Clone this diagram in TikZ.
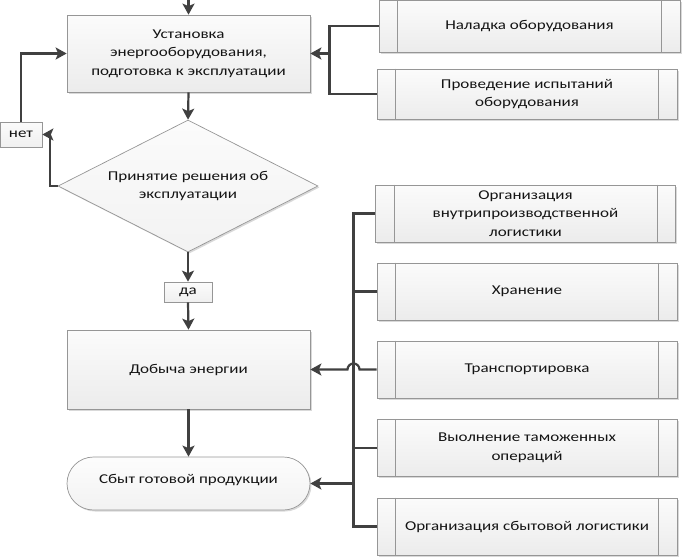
\documentclass[tikz,border=0pt]{standalone}
\usepackage{fontspec}
\setmainfont{Carlito}[FakeStretch=1.26]
\usetikzlibrary{arrows.meta,shapes.geometric,shadows,calc}
\definecolor{ln}{RGB}{64,64,64}
\definecolor{bd}{RGB}{150,150,150}
\definecolor{txt}{RGB}{20,20,20}
\begin{document}
\begin{tikzpicture}[x=1pt,y=-1pt,
  base/.style={draw=bd, line width=0.7pt, top color=gray!3, bottom color=gray!15,
    drop shadow={shadow xshift=1.5pt,shadow yshift=-1.5pt,opacity=0.3,fill=gray},
    text=txt, align=center, inner sep=2pt, font=\fontsize{13.5}{18.5}\selectfont},
  mainbox/.style={base, minimum width=243pt},
  subbox/.style={base, minimum width=300pt, minimum height=57pt},
  tag/.style={draw=bd, line width=0.7pt, top color=gray!3, bottom color=gray!12, text=txt,
    inner sep=0pt, font=\fontsize{13.5}{16}\selectfont},
  conn/.style={draw=ln, line width=2.2pt},
  arr/.style={conn, -{Stealth[length=11pt,width=12pt,inset=2.5pt]}}
]
\useasboundingbox (0,0) rectangle (682,558);

% main column
\node[mainbox, minimum height=77pt] (inst) at (188.5,53.5)
  {Установка\\энергооборудования,\\подготовка к эксплуатации};
\node[base, diamond, shape aspect=1.97, minimum width=260pt, minimum height=132pt, inner sep=0pt,
  top color=gray!3, bottom color=gray!10] (dec) at (188,186)
  {Принятие решения об\\эксплуатации};
\node[tag, minimum width=42pt, minimum height=25pt] (net) at (21,134.5) {нет};
\node[tag, minimum width=48pt, minimum height=20pt] (da) at (188,292) {да};
\node[mainbox, minimum height=79pt] (dob) at (188.5,369.5) {Добыча энергии};
\node[mainbox, minimum height=53pt, rounded corners=26.5pt, top color=gray!2, bottom color=gray!10] (sbt) at (188.5,483.5)
  {\raisebox{9pt}{Сбыт готовой продукции}};

% right column
\node[subbox, minimum width=301pt, minimum height=52pt] (nal) at (529.5,26) {Наладка оборудования};
\node[subbox, minimum height=50pt] (isp) at (527,94) {Проведение испытаний\\оборудования};
\node[subbox] (org) at (525.5,213.5) {Организация\\внутрипроизводственной\\логистики};
\node[subbox] (hr) at (527,291.5) {Хранение};
\node[subbox] (tr) at (527,369.5) {Транспортировка};
\node[subbox] (tam) at (527,448) {Выолнение таможенных\\операций};
\node[subbox] (sl) at (527,526.5) {Организация сбытовой логистики};

\foreach \n in {nal,isp,org,hr,tr,tam,sl}{
  \draw[bd, line width=0.7pt] ($(\n.north west)+(19,0)$) -- ($(\n.south west)+(19,0)$);
  \draw[bd, line width=0.7pt] ($(\n.north east)+(-19,0)$) -- ($(\n.south east)+(-19,0)$);
}

% connectors
\coordinate (top) at (188.5,0);
\draw[arr] (top) -- (inst.north);
\draw[arr] (inst.south) -- (dec.north);
\draw[arr] (dec.west) -- ++(-8,0) |- (net.east);
\draw[arr] (net.north) |- (inst.west);
\draw[arr] (dec.south) -- (da.north);
\draw[arr] (da.south) -- (dob.north);
\draw[arr] (dob.south) -- (sbt.north);

\coordinate (j1) at (329.5,53.5);
\draw[conn] (nal.west) -| (j1);
\draw[conn] (isp.west) -| (j1);
\draw[arr] (j1) -- (inst.east);

\coordinate (bt) at (353.5,213.5);
\coordinate (bb) at (353.5,526.5);
\draw[conn] (org.west) -- (bt) -- (bb) -- (sl.west);
\draw[conn] (hr.west) -- (hr.west -| bt);
\draw[conn] (tam.west) -- (tam.west -| bt);
\draw[arr] (bt |- sbt.east) -- (sbt.east);
\draw[arr] (tr.west) -- ($(tr.west -| bt)+(6,0)$) arc[start angle=0, end angle=180, radius=6pt] -- (dob.east);
\end{tikzpicture}
\end{document}
